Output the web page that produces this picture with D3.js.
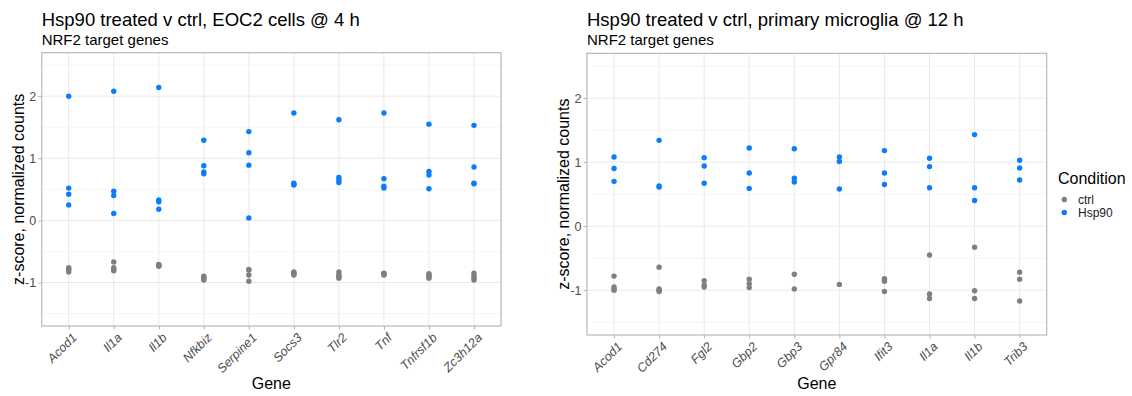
<!DOCTYPE html>
<html>
<head>
<meta charset="utf-8">
<script src="https://cdn.jsdelivr.net/npm/d3@7"></script>
<style>
	body { margin: 0; background: #fff; }
	svg { display: block; font-family: "Liberation Sans", Arial, Helvetica, sans-serif; }
</style>
</head>
<body>
<script>
	// Data
	let conditions = ['ctrl', 'Hsp90'];
	let yTicks = [-1, 0, 1, 2];
	let yMinor = [-1.5, -0.5, 0.5, 1.5, 2.5];
	let yLimits = [-1.5, 2.5];

	// Left: EOC2 cells @ 4 h
	let eocGenes = ['Acod1', 'Il1a', 'Il1b', 'Nfkbiz', 'Serpine1', 'Socs3', 'Tlr2', 'Tnf', 'Tnfrsf1b', 'Zc3h12a'];
	let eocCtrl = [
		[-0.76, -0.78, -0.80, -0.83],
		[-0.67, -0.76, -0.79, -0.81],
		[-0.71, -0.72, -0.73, -0.74],
		[-0.90, -0.92, -0.94, -0.96],
		[-0.79, -0.80, -0.88, -0.98],
		[-0.83, -0.85, -0.86, -0.88],
		[-0.83, -0.88, -0.90, -0.93],
		[-0.85, -0.86, -0.87, -0.88],
		[-0.86, -0.88, -0.90, -0.93],
		[-0.85, -0.89, -0.93, -0.96]
	];
	let eocHsp = [
		[2.00, 0.52, 0.42, 0.25],
		[2.08, 0.47, 0.40, 0.11],
		[2.14, 0.33, 0.30, 0.18],
		[1.29, 0.88, 0.78, 0.75],
		[1.43, 1.09, 0.89, 0.04],
		[1.73, 0.60, 0.58, 0.57],
		[1.62, 0.69, 0.65, 0.61],
		[1.73, 0.67, 0.55, 0.52],
		[1.55, 0.79, 0.73, 0.51],
		[1.53, 0.86, 0.60, 0.59]
	];

	// Right: primary microglia @ 12 h
	let mgGenes = ['Acod1', 'Cd274', 'Fgl2', 'Gbp2', 'Gbp3', 'Gpr84', 'Ifit3', 'Il1a', 'Il1b', 'Trib3'];
	let mgCtrl = [
		[-0.78, -0.95, -0.98, -1.00],
		[-0.64, -0.98, -1.00, -1.02],
		[-0.85, -0.92, -0.95],
		[-0.83, -0.90, -0.96],
		[-0.75, -0.98],
		[-0.91],
		[-0.82, -0.86, -1.02],
		[-0.45, -1.06, -1.13],
		[-0.33, -1.01, -1.13],
		[-0.72, -0.83, -1.17]
	];
	let mgHsp = [
		[1.08, 0.90, 0.70],
		[1.34, 0.63, 0.61],
		[1.07, 0.94, 0.67],
		[1.22, 0.83, 0.59],
		[1.21, 0.75, 0.69],
		[1.08, 1.01, 0.58],
		[1.18, 0.83, 0.65],
		[1.06, 0.93, 0.60],
		[1.43, 0.60, 0.40],
		[1.03, 0.91, 0.72]
	];

	let colorScale = d3.scaleOrdinal()
		.domain(conditions)
		.range(['#7f7f7f', '#0a7dfc']);

	let width = 1132, height = 396;
	let svg = d3.select('body').append('svg')
		.attr('width', width)
		.attr('height', height);

	drawPanel({
		title: 'Hsp90 treated v ctrl, EOC2 cells @ 4 h',
		genes: eocGenes, ctrl: eocCtrl, hsp: eocHsp,
		left: 41.7, right: 501, top: 52.7, bottom: 326
	});
	drawPanel({
		title: 'Hsp90 treated v ctrl, primary microglia @ 12 h',
		genes: mgGenes, ctrl: mgCtrl, hsp: mgHsp,
		left: 587, right: 1046.7, top: 53.3, bottom: 335
	});
	drawLegend(1058, 184);

	function drawPanel(p){
		// ggplot style 5% expansion on the y limits
		let span = yLimits[1] - yLimits[0];
		let y = d3.scaleLinear()
			.domain([yLimits[0] - span * 0.05, yLimits[1] + span * 0.05])
			.range([p.bottom, p.top]);
		let x = d3.scalePoint()
			.domain(p.genes)
			.range([p.left, p.right])
			.padding(0.6);

		let g = svg.append('g');

		// Grid
		g.selectAll('.minor')
			.data(yMinor).enter()
			.append('line')
			.attr('x1', p.left).attr('x2', p.right)
			.attr('y1', d => y(d)).attr('y2', d => y(d))
			.attr('stroke', '#f3f3f3')
			.attr('stroke-width', 0.8);
		g.selectAll('.majorY')
			.data(yTicks).enter()
			.append('line')
			.attr('x1', p.left).attr('x2', p.right)
			.attr('y1', d => y(d)).attr('y2', d => y(d))
			.attr('stroke', '#e9e9e9')
			.attr('stroke-width', 1);
		g.selectAll('.majorX')
			.data(p.genes).enter()
			.append('line')
			.attr('x1', d => x(d)).attr('x2', d => x(d))
			.attr('y1', p.top).attr('y2', p.bottom)
			.attr('stroke', '#e9e9e9')
			.attr('stroke-width', 1);

		// Points, ctrl first then Hsp90 on top
		let points = [];
		p.genes.forEach((gene, i) => {
			p.ctrl[i].forEach(v => points.push({gene: gene, cond: 'ctrl', value: v}));
		});
		p.genes.forEach((gene, i) => {
			p.hsp[i].forEach(v => points.push({gene: gene, cond: 'Hsp90', value: v}));
		});
		g.selectAll('.pt')
			.data(points).enter()
			.append('circle')
			.attr('cx', d => x(d.gene))
			.attr('cy', d => y(d.value))
			.attr('r', 2.7)
			.attr('fill', d => colorScale(d.cond));

		// Border
		g.append('rect')
			.attr('x', p.left).attr('y', p.top)
			.attr('width', p.right - p.left)
			.attr('height', p.bottom - p.top)
			.attr('fill', 'none')
			.attr('stroke', '#b3b3b3')
			.attr('stroke-width', 1.1);

		// Y axis
		let yAxis = d3.axisLeft(y)
			.tickValues(yTicks)
			.tickFormat(d3.format('d'))
			.tickSize(3.5)
			.tickPadding(2);
		let ya = g.append('g')
			.attr('transform', 'translate(' + p.left + ',0)')
			.call(yAxis);
		ya.select('.domain').remove();
		ya.selectAll('line').attr('stroke', '#b3b3b3');
		ya.selectAll('text')
			.attr('fill', '#4d4d4d')
			.style('font-size', '12.5px')
			.text(d => d < 0 ? '-' + Math.abs(d) : d);

		// X axis
		let xAxis = d3.axisBottom(x)
			.tickSize(3.5)
			.tickPadding(2);
		let xa = g.append('g')
			.attr('transform', 'translate(0,' + p.bottom + ')')
			.call(xAxis);
		xa.select('.domain').remove();
		xa.selectAll('line').attr('stroke', '#b3b3b3');
		xa.selectAll('text')
			.attr('fill', '#4d4d4d')
			.style('font-size', '12.5px')
			.style('font-style', 'italic')
			.attr('text-anchor', 'end')
			.attr('y', 0).attr('dy', '0.72em')
			.attr('transform', 'translate(2,6) rotate(-45)');

		// Titles
		g.append('text')
			.attr('x', p.left).attr('y', 26)
			.style('font-size', '18.5px')
			.attr('fill', '#000')
			.text(p.title);
		g.append('text')
			.attr('x', p.left).attr('y', 44.5)
			.style('font-size', '15px')
			.attr('fill', '#000')
			.text('NRF2 target genes');

		// Axis titles
		g.append('text')
			.attr('transform', 'translate(' + (p.left - 23.6) + ',' + ((p.top + p.bottom) / 2) + ') rotate(-90)')
			.attr('text-anchor', 'middle')
			.attr('dy', '0.35em')
			.style('font-size', '16px')
			.text('z-score, normalized counts');
		g.append('text')
			.attr('x', (p.left + p.right) / 2)
			.attr('y', 388.5)
			.attr('text-anchor', 'middle')
			.style('font-size', '16px')
			.text('Gene');
	}

	function drawLegend(lx, ly){
		let lg = svg.append('g');
		lg.append('text')
			.attr('x', lx).attr('y', ly)
			.style('font-size', '16px')
			.text('Condition');
		let items = lg.selectAll('.item')
			.data(conditions).enter()
			.append('g')
			.attr('transform', (d, i) => 'translate(' + lx + ',' + (ly + 15.5 + i * 13) + ')');
		items.append('circle')
			.attr('cx', 6.3).attr('cy', 0)
			.attr('r', 2.7)
			.attr('fill', d => colorScale(d));
		items.append('text')
			.attr('x', 20).attr('y', 0)
			.attr('dy', '0.36em')
			.style('font-size', '12px')
			.attr('fill', '#1a1a1a')
			.text(d => d);
	}
</script>
</body>
</html>
